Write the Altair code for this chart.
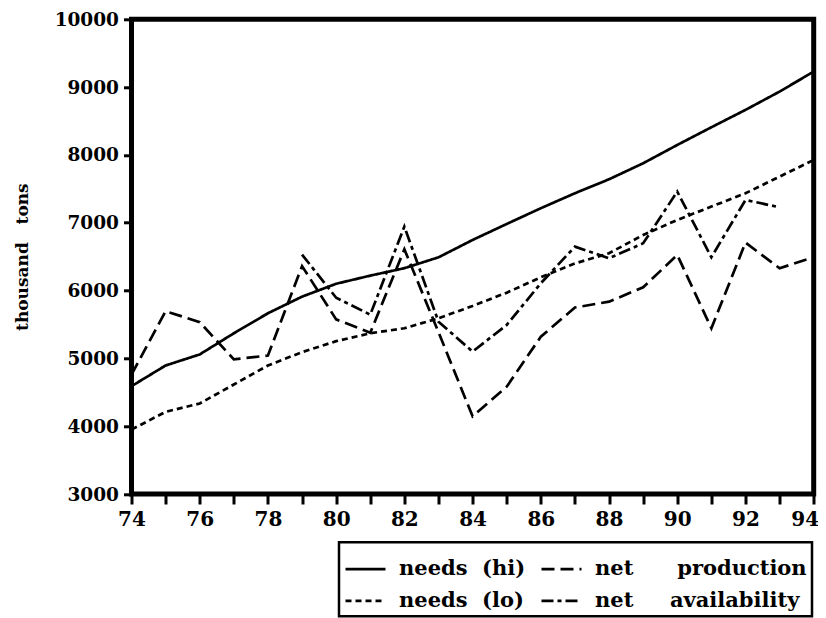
import altair as alt
import pandas as pd

years = list(range(74, 95))

needs_hi = [4590, 4895, 5058, 5370, 5665, 5910, 6100, 6220, 6330, 6490, 6746,
            6982, 7214, 7435, 7641, 7877, 8147, 8408, 8664, 8934, 9229]
needs_lo = [3950, 4212, 4335, 4615, 4895, 5092, 5254, 5370, 5444, 5591, 5773,
            5969, 6196, 6400, 6550, 6820, 7041, 7238, 7435, 7680, 7926]
net_production = [4762, 5696, 5534, 4985, 5042, 6360, 5575, 5378, 6609, 5386, 4145,
                  4583, 5320, 5750, 5836, 6048, 6525, 5444, 6707, 6329, 6491]
net_availability = [None, None, None, None, None, 6530, 5894, 5645, 6943, 5541, 5100,
                    5493, 6108, 6647, 6476, 6697, 7459, 6491, 7336, 7228, None]

NB = "\u00a0"
series_names = [
    "needs" + NB * 2 + "(hi)",
    "needs" + NB * 2 + "(lo)",
    "net" + NB * 6 + "production",
    "net" + NB * 5 + "availability",
]
series_values = [needs_hi, needs_lo, net_production, net_availability]
dash_patterns = [[1, 0], [6, 4], [13, 6], [12, 4, 4, 4]]

rows = []
for name, vals in zip(series_names, series_values):
    for yr, v in zip(years, vals):
        if v is not None:
            rows.append({"year": yr, "value": v, "series": name})
df = pd.DataFrame(rows)

FONT = "DejaVu Serif"

chart = alt.Chart(df).mark_line(strokeWidth=2.7, color="black").encode(
    x=alt.X("year:Q",
            scale=alt.Scale(domain=[74, 94], nice=False, zero=False),
            axis=alt.Axis(values=years, format="d", title=None,
                          labelExpr="datum.value % 2 == 0 ? datum.label : ''",
                          labelFontSize=20, labelPadding=5, tickSize=10,
                          labelFlush=False,
                          labelOffset={"condition": {"test": "datum.value == 94", "value": -9},
                                       "value": 0})),
    y=alt.Y("value:Q",
            scale=alt.Scale(domain=[3000, 10000], nice=False, zero=False),
            axis=alt.Axis(values=list(range(3000, 10001, 1000)), format="d",
                          title="thousand" + NB * 3 + "tons",
                          labelFontSize=18.5, labelPadding=5, tickSize=8,
                          titlePadding=23)),
    strokeDash=alt.StrokeDash("series:N",
                              scale=alt.Scale(domain=series_names, range=dash_patterns),
                              legend=alt.Legend(title=None, orient="none",
                                                legendX=207.5, legendY=523,
                                                columns=2, symbolType="stroke",
                                                symbolSize=1600, symbolStrokeWidth=2.7,
                                                symbolStrokeColor="black",
                                                labelFont=FONT, labelFontSize=21,
                                                labelFontWeight="bold", labelColor="black",
                                                labelOffset=12, columnPadding=10,
                                                rowPadding=-5, padding=5,
                                                strokeColor="black",
                                                labelLimit=400)),
    order="year:Q",
).properties(
    width=682.2,
    height=474.7,
    autosize=alt.AutoSizeParams(type="none"),
    padding={"left": 123.5, "top": 11.3, "right": 4.3, "bottom": 124},
    background="white",
).configure_view(
    stroke="black", strokeWidth=5
).configure_axis(
    grid=False, domain=False, tickColor="black", tickWidth=3,
    labelFont=FONT, labelFontWeight="bold", labelColor="black",
    titleFont=FONT, titleFontWeight="bold", titleColor="black", titleFontSize=17,
).configure_legend(
    strokeWidth=2.5
)

chart.save("out.html", embed_options={"renderer": "svg", "actions": False})
